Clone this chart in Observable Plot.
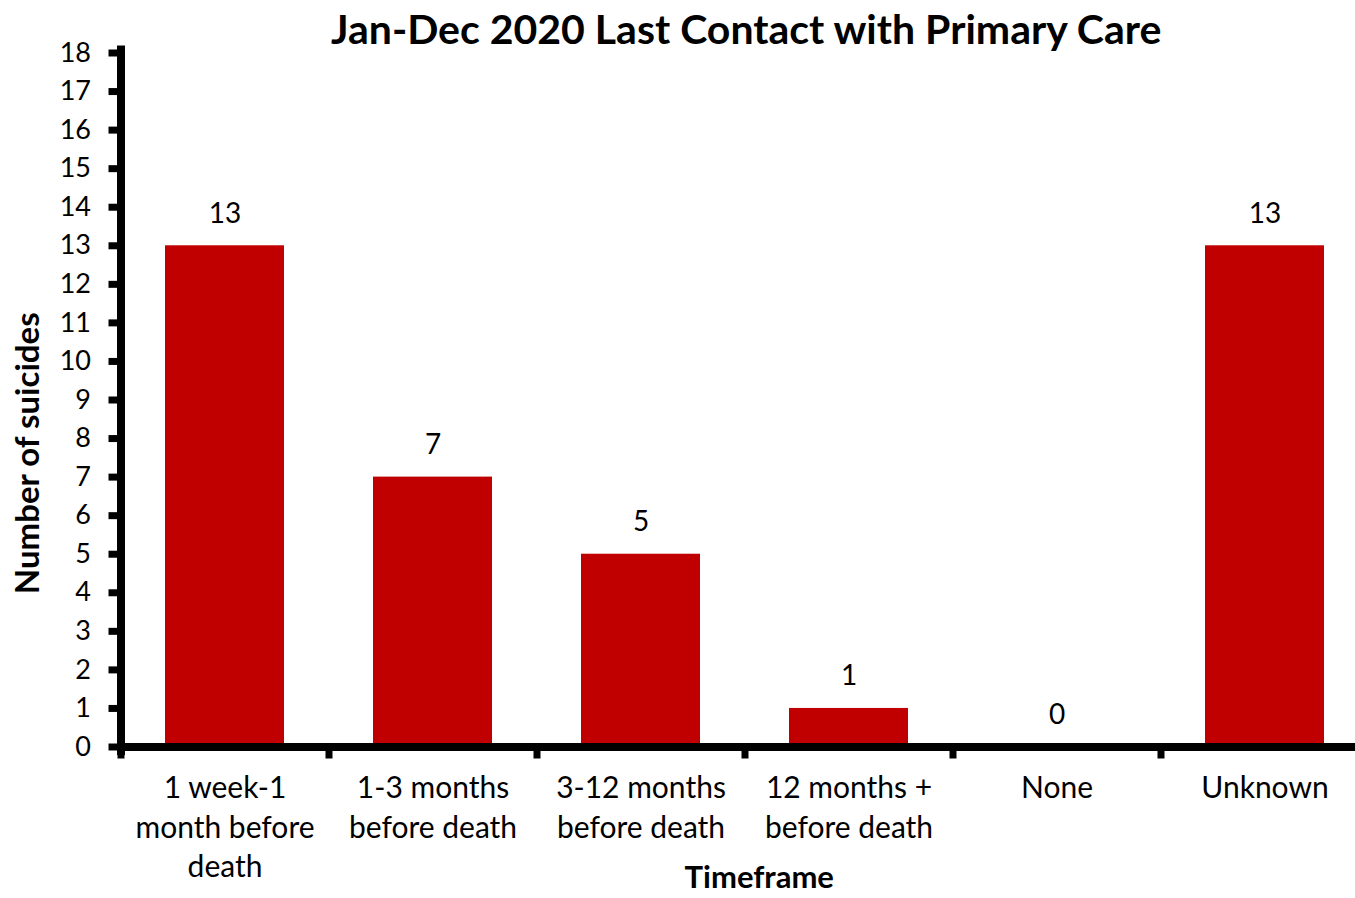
<!DOCTYPE html>
<html>
<head>
<meta charset="utf-8">
<script src="https://cdn.jsdelivr.net/npm/d3@7"></script>
<script src="https://cdn.jsdelivr.net/npm/@observablehq/plot@0.6"></script>
<style>
  html, body { margin: 0; padding: 0; background: #fff; overflow: hidden; }
  #chart svg { display: block; }
</style>
</head>
<body>
<div id="chart"></div>
<script>
// Last contact with primary care before death, Jan–Dec 2020
const categories = [
  "1 week-1 month before death",
  "1-3 months before death",
  "3-12 months before death",
  "12 months + before death",
  "None",
  "Unknown"
];
const categoryLines = [
  "1 week-1\nmonth before\ndeath",
  "1-3 months\nbefore death",
  "3-12 months\nbefore death",
  "12 months +\nbefore death",
  "None",
  "Unknown"
];
const suicides = [13, 7, 5, 1, 0, 13];
const yTicks = d3.range(0, 19);

const title = "Jan-Dec 2020 Last Contact with Primary Care";
const yTitle = "Number of suicides";
const xTitle = "Timeframe";

const rows = categories.map((c, i) => ({category: c, value: suicides[i]}));
const lineOf = new Map(categories.map((c, i) => [c, categoryLines[i]]));

const FONT = "Lato, 'Open Sans', sans-serif";
const RED = "#C00000";

const chart = Plot.plot({
  width: 1355,
  height: 898,
  marginLeft: 120.5,
  marginRight: 0,
  marginTop: 49,
  marginBottom: 147.5,
  style: {fontFamily: FONT, color: "#000", background: "#fff"},
  x: {
    domain: categories,
    range: [120.5, 1368.5],
    paddingInner: 0.43,
    paddingOuter: 0.215,
    align: 0.5
  },
  y: {domain: [0, 18], range: [746.5, 52.5]},
  marks: [
    Plot.barY(rows, {x: "category", y: "value", fill: RED}),
    // axis lines
    Plot.frame({anchor: "left", stroke: "#000", strokeWidth: 8}),
    Plot.ruleY([0], {stroke: "#000", strokeWidth: 8}),
    // y axis ticks and labels
    Plot.axisY({
      ticks: yTicks,
      tickSize: 12,
      tickPadding: 18,
      strokeWidth: 7,
      fontSize: 27,
      label: null
    }),
    // x axis ticks between categories
    Plot.axisX({
      tickSize: 8,
      strokeWidth: 7,
      dx: -104,
      tickFormat: () => "",
      label: null
    }),
    // x axis category labels
    Plot.axisX({
      tickSize: 0,
      tickPadding: 19,
      fontSize: 30,
      lineHeight: 1.32,
      tickFormat: (d) => lineOf.get(d),
      label: null
    }),
    // value labels above bars
    Plot.text(rows, {x: "category", y: "value", text: (d) => String(d.value), dy: -32, fontSize: 28, fill: "#000"}),
    // titles
    Plot.text([title], {frameAnchor: "top", lineAnchor: "middle", dx: 8, dy: -19, fontSize: 41, fontWeight: "bold", fill: "#000"}),
    Plot.text([yTitle], {frameAnchor: "left", textAnchor: "middle", lineAnchor: "middle", dx: -92.5, dy: 53, rotate: -90, fontSize: 33, fontWeight: "bold", fill: "#000"}),
    Plot.text([xTitle], {frameAnchor: "bottom", lineAnchor: "middle", dx: 21, dy: 127.5, fontSize: 31, fontWeight: "bold", fill: "#000"})
  ]
});

document.getElementById("chart").append(chart);
</script>
</body>
</html>
